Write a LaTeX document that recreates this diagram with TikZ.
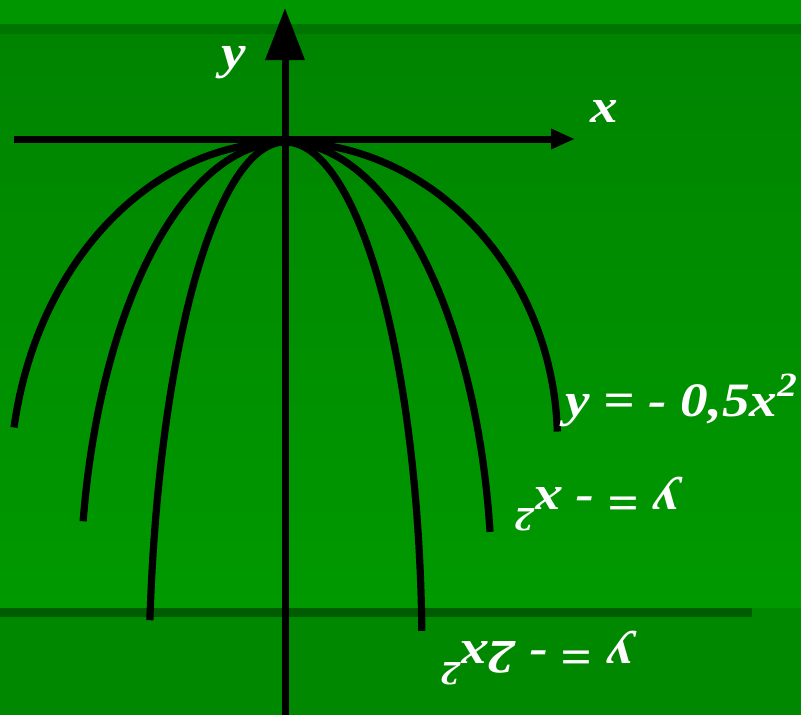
\documentclass[tikz,border=0pt]{standalone}
\usepackage{fontspec}
\setmainfont{Liberation Serif}
\usepackage{xcolor}
\usetikzlibrary{arrows.meta}

\definecolor{topgreen}{RGB}{0,150,0}
\definecolor{bandgreen}{RGB}{0,116,0}
\definecolor{upgreen}{RGB}{0,132,0}
\definecolor{lowgreen}{RGB}{0,153,0}
\definecolor{stripegreen}{RGB}{0,92,0}
\definecolor{footgreen}{RGB}{0,136,0}

\newcommand{\powtwo}{\raisebox{0.42em}{\fontsize{34}{34}\selectfont 2}}

\tikzset{
  curve/.style={line width=7.2pt, line join=round},
  axisline/.style={line width=7pt},
  lbl/.style={text=white, inner sep=0pt, xscale=1.15, transform shape,
    font=\fontsize{48}{48}\selectfont\bfseries\itshape}
}

\begin{document}
\begin{tikzpicture}[x=1pt, y=-1pt]
  % Background
  \fill[topgreen] (0,0) rectangle (801,715);
  \shade[top color=upgreen, bottom color=lowgreen] (0,34) rectangle (801,608);
  \fill[bandgreen] (0,24) rectangle (801,34);
  \fill[footgreen] (0,608) rectangle (801,715);
  \fill[stripegreen] (0,608) rectangle (752,617);
  \useasboundingbox (0,0) rectangle (801,715);

  % Axes
  \coordinate (xstart) at (14,139);
  \coordinate (xend) at (575,139);
  \coordinate (ybot) at (285,715);
  \coordinate (ytop) at (285,8);
  \draw[axisline, -{Triangle[length=24pt, width=19pt]}] (xstart) -- (xend);
  \draw[axisline, -{Triangle[length=52pt, width=38pt]}] (ybot) -- (ytop);
  \node[lbl] (xlab) at (604,111) {x};
  \node[lbl] (ylab) at (234,63) {y};

  % Parabolas (each half an elliptic arc from the vertex)
  \coordinate (apex) at (285,142);
  \path (apex) arc[start angle=270, end angle=189.8, x radius=275, y radius=344] coordinate (outerL);
  \path (apex) arc[start angle=270, end angle=190, x radius=205, y radius=459] coordinate (midL);
  \path (apex) arc[start angle=270, end angle=187.5, x radius=136.3, y radius=550] coordinate (innerL);
  \draw[curve] (outerL) arc[start angle=189.8, end angle=270, x radius=275, y radius=344]
    arc[start angle=270, end angle=358, x radius=272.5, y radius=300];
  \draw[curve] (midL) arc[start angle=190, end angle=270, x radius=205, y radius=459]
    arc[start angle=270, end angle=352.1, x radius=207, y radius=452];
  \draw[curve] (innerL) arc[start angle=187.5, end angle=270, x radius=136.3, y radius=550]
    arc[start angle=270, end angle=357.4, x radius=137, y radius=512];

  % Labels
  \node[lbl] (outerlab) at (681,400) {y = - 0,5x\powtwo};
  \node[lbl, rotate=180] (midlab) at (596,504) {y = - x\powtwo};
  \node[lbl, rotate=180] (innerlab) at (536,658) {y = - 2x\powtwo};
\end{tikzpicture}
\end{document}
